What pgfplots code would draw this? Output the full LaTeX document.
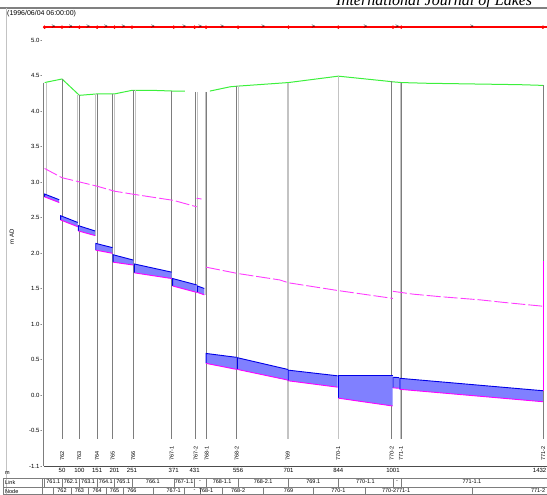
\documentclass[border=0pt]{standalone}
\usepackage{pgfplots}
\pgfplotsset{compat=1.18}
\usepackage{fontspec}
\setmainfont{Liberation Sans}
\newfontfamily\serifit{Liberation Serif}
\definecolor{gnd}{RGB}{60,240,60}
\definecolor{wfill}{RGB}{128,128,255}
\definecolor{wtop}{RGB}{0,0,230}
\definecolor{inv}{RGB}{255,0,255}
\definecolor{crown}{RGB}{255,60,255}
\definecolor{dk}{RGB}{125,125,125}
\definecolor{lt}{RGB}{195,195,195}
% pipe: x1 x2 top1 top2 bottom1 bottom2
\newcommand\pipe[6]{%
 \addplot[fill=wfill, draw=none] coordinates {(#1,#5) (#2,#6) (#2,#4) (#1,#3)} -- cycle;
 \addplot[wtop, line width=0.9pt] coordinates {(#1,#5) (#1,#3) (#2,#4)};
 \addplot[inv, line width=0.9pt] coordinates {(#1,#5) (#2,#6)};
}
\newcommand\nline[4]{\addplot[#1, line width=0.8pt] coordinates {(#2,#3) (#2,#4)};}
\newcommand\nlab[2]{\node[rotate=90, anchor=west, inner sep=0pt, font=\fontsize{5.5}{6}\selectfont] at (axis cs:#1,-0.93) {#2};}
\newcommand\rowtxt[3]{\node[inner sep=0pt, font=\fontsize{5.5}{6}\selectfont] at (axis cs:#1,#2) {#3};}
\newcommand\rowsep[3]{\draw[dk, line width=0.4pt] (axis cs:#1,#2) -- (axis cs:#1,#3);}
\begin{document}
\begin{tikzpicture}[x=1pt,y=1pt]
\useasboundingbox (0,0) rectangle (547,495);
\node[anchor=base west, inner sep=0pt, font=\serifit\itshape\fontsize{16}{16}\selectfont] at (336,489.5) {International Journal of Lakes};
\draw[gray, line width=1.2pt] (0,487) -- (547,487);
\draw[lt] (6.5,0) -- (6.5,487);
\node[anchor=west, inner sep=0pt, font=\fontsize{7}{7}\selectfont] at (7,481) {(1996/06/04 06:00:00)};
\node[anchor=west, inner sep=0pt, font=\fontsize{5.5}{6}\selectfont] at (5,22) {m};
\node[anchor=west, inner sep=0pt, font=\fontsize{5.5}{6}\selectfont] at (5,12.5) {Link};
\node[anchor=west, inner sep=0pt, font=\fontsize{5.5}{6}\selectfont] at (5,3.5) {Node};
\node[anchor=north east, inner sep=0.5pt, font=\fontsize{6}{7}\selectfont] at (547,27.5) {1432};
\draw[dk, line width=0.4pt] (3,17) -- (547,17);
\draw[dk, line width=0.4pt] (3,8) -- (547,8);
\draw[dk, line width=0.4pt] (3,0.3) -- (547,0.3);
\draw[dk, line width=0.4pt] (3,0) -- (3,17);
\draw[dk, line width=0.4pt] (42,0) -- (42,17);
\begin{axis}[
  at={(43.56pt,29pt)}, anchor=south west,
  width=503.9pt, height=458pt, scale only axis,
  xmin=-3, xmax=1445, ymin=-1.0, ymax=5.45,
  clip=false,
  separate axis lines,
  axis x line*=bottom, axis y line*=left,
  x axis line style={-, draw=black!70},
  y axis line style={draw=none},
  major tick length=0pt,
  /pgf/number format/assume math mode=true,
  tick label style={font=\fontsize{6}{7}\selectfont},
  ytick={-1,-0.5,0,0.5,1,1.5,2,2.5,3,3.5,4,4.5,5},
  yticklabels={-1.1\,-,-0.5\,-,0.0\,-,0.5\,-,1.0\,-,1.5\,-,2.0\,-,2.5\,-,3.0\,-,3.5\,-,4.0\,-,4.5\,-,5.0\,-},
  yticklabel style={inner sep=1pt},
  xtick={50,100,151,201,251,371,431,556,701,844,1001},
  xticklabels={50,100,151,201,251,371,431,556,701,844,1001},
  xticklabel style={inner sep=0.5pt, anchor=north, yshift=-1.5pt},
  ylabel={m AD},
  ylabel style={at={(axis description cs:-0.063,0.5)}, anchor=center, font=\fontsize{6}{7}\selectfont},
]
% ground
\addplot[gnd, line width=1pt] coordinates {(0,4.40) (50,4.45) (100,4.22) (151,4.24) (201,4.24) (251,4.29) (311,4.29) (371,4.28) (403,4.28)};
\addplot[gnd, line width=1pt] coordinates {(475,4.28) (533,4.34) (556,4.35) (701,4.40) (844,4.49) (983,4.42) (1001,4.41) (1025,4.40) (1098,4.39) (1231,4.38) (1366,4.37) (1432,4.36)};
% node lines
\nline{dk}{-3.7}{4.40}{-1.0}
\nline{lt}{4}{4.40}{2.79}
\nline{dk}{51}{4.45}{-0.62}
\nline{lt}{95}{4.22}{2.37}
\nline{dk}{99.7}{4.22}{-0.62}
\nline{lt}{145.7}{4.24}{2.245}
\nline{dk}{150.6}{4.24}{-0.62}
\nline{dk}{195.7}{4.24}{-0.62}
\nline{lt}{199.4}{4.24}{1.87}
\nline{dk}{254.9}{4.29}{-0.62}
\nline{lt}{259.8}{4.29}{1.72}
\nline{dk}{365.2}{4.28}{-0.62}
\nline{dk}{434.2}{4.27}{-0.62}
\nline{lt}{440}{4.27}{1.445}
\nline{lt}{461}{4.27}{1.41}
\nline{dk}{465.8}{4.27}{-0.62}
\nline{dk}{552}{4.35}{-0.62}
\nline{lt}{556.6}{4.35}{0.36}
\addplot[lt, line width=1.8pt] coordinates {(699,4.40) (699,-0.62)};
\nline{lt}{844}{4.49}{-0.62}
\nline{dk}{997.4}{4.42}{-0.62}
\nline{lt}{1021}{4.40}{-0.62}
\nline{dk}{1026}{4.40}{-0.62}
\nline{dk}{1433}{4.36}{-0.62}
% crown / upper line
\addplot[crown, line width=0.9pt, dash pattern=on 14pt off 3pt] coordinates {(0,3.19) (50,3.06) (151,2.94) (201,2.87) (251,2.83) (371,2.74) (437,2.65)};
\addplot[crown, line width=0.9pt] coordinates {(437,2.77) (451,2.76)};
\addplot[crown, line width=0.9pt, dash pattern=on 14pt off 3pt] coordinates {(464,1.80) (556,1.71) (676,1.62) (701,1.58) (844,1.47) (1001,1.36)};
\addplot[crown, line width=0.9pt, dash pattern=on 14pt off 3pt] coordinates {(1001,1.46) (1059,1.42) (1136,1.385) (1251,1.34) (1317,1.305) (1432,1.25)};
% pipes with water
\pipe{0}{42}{2.83}{2.75}{2.79}{2.71}
\pipe{46}{95}{2.525}{2.43}{2.465}{2.37}
\pipe{97}{145}{2.385}{2.31}{2.31}{2.245}
\pipe{147}{195}{2.135}{2.075}{2.04}{1.995}
\pipe{197}{255}{1.975}{1.90}{1.87}{1.83}
\pipe{258}{365}{1.845}{1.73}{1.72}{1.64}
\pipe{368}{437}{1.64}{1.55}{1.535}{1.445}
\pipe{439}{459}{1.535}{1.50}{1.445}{1.41}
\pipe{464}{552}{0.585}{0.53}{0.445}{0.36}
\pipe{554}{699}{0.525}{0.36}{0.36}{0.21}
\pipe{700}{842}{0.35}{0.27}{0.20}{0.11}
\pipe{844}{1000}{0.27}{0.27}{-0.045}{-0.155}
\pipe{1001}{1019}{0.25}{0.245}{0.10}{0.095}
\pipe{1021}{1432}{0.235}{0.06}{0.08}{-0.095}
\addplot[inv, line width=1.2pt] coordinates {(1433,0.06) (1433,1.88)};
% top red node/link strip
\addplot[red, line width=1.6pt] coordinates {(0,5.18) (1445,5.18)};
\addplot[red, only marks, mark=*, mark size=1.5pt] coordinates {(0,5.18) (50,5.18) (100,5.18) (151,5.18) (201,5.18) (251,5.18) (371,5.18) (431,5.18) (464,5.18) (556,5.18) (701,5.18) (844,5.18) (1001,5.18) (1025,5.18) (1432,5.18)};
\addplot[red!70, only marks, mark=text, text mark={\fontsize{6}{6}\selectfont >}] coordinates {(25,5.18) (75,5.18) (125,5.18) (176,5.18) (226,5.18) (311,5.18) (401,5.18) (447,5.18) (510,5.18) (628,5.18) (772,5.18) (922,5.18) (1013,5.18) (1228,5.18)};
% rotated node labels
\nlab{51}{762}
\nlab{99.7}{763}
\nlab{150.6}{764}
\nlab{195.7}{765}
\nlab{254.9}{766}
\nlab{365.2}{767-1}
\nlab{434.2}{767-2}
\nlab{465.8}{768-1}
\nlab{552}{768-2}
\nlab{699}{769}
\nlab{844}{770-1}
\nlab{997.4}{770-2}
\nlab{1024}{771-1}
\nlab{1433}{771-2}
% link row separators (at nodes) and labels
\rowsep{0}{-1.169}{-1.296}
\rowsep{50}{-1.169}{-1.296}
\rowsep{100}{-1.169}{-1.296}
\rowsep{151}{-1.169}{-1.296}
\rowsep{201}{-1.169}{-1.296}
\rowsep{251}{-1.169}{-1.296}
\rowsep{371}{-1.169}{-1.296}
\rowsep{431}{-1.169}{-1.296}
\rowsep{464}{-1.169}{-1.296}
\rowsep{556}{-1.169}{-1.296}
\rowsep{701}{-1.169}{-1.296}
\rowsep{844}{-1.169}{-1.296}
\rowsep{1001}{-1.169}{-1.296}
\rowsep{1025}{-1.169}{-1.296}
\rowtxt{25}{-1.225}{761.1}
\rowtxt{75}{-1.225}{762.1}
\rowtxt{125}{-1.225}{763.1}
\rowtxt{176}{-1.225}{764.1}
\rowtxt{226}{-1.225}{765.1}
\rowtxt{311}{-1.225}{766.1}
\rowtxt{401}{-1.225}{767-1.1}
\rowtxt{447}{-1.225}{-}
\rowtxt{510}{-1.225}{768-1.1}
\rowtxt{628}{-1.225}{768-2.1}
\rowtxt{772}{-1.225}{769.1}
\rowtxt{922}{-1.225}{770-1.1}
\rowtxt{1013}{-1.225}{-}
\rowtxt{1228}{-1.225}{771-1.1}
% node row separators (at link midpoints) and labels
\rowsep{25}{-1.296}{-1.405}
\rowsep{75}{-1.296}{-1.405}
\rowsep{125}{-1.296}{-1.405}
\rowsep{176}{-1.296}{-1.405}
\rowsep{226}{-1.296}{-1.405}
\rowsep{311}{-1.296}{-1.405}
\rowsep{401}{-1.296}{-1.405}
\rowsep{447}{-1.296}{-1.405}
\rowsep{510}{-1.296}{-1.405}
\rowsep{628}{-1.296}{-1.405}
\rowsep{772}{-1.296}{-1.405}
\rowsep{922}{-1.296}{-1.405}
\rowsep{1228}{-1.296}{-1.405}
\rowtxt{50}{-1.352}{762}
\rowtxt{100}{-1.352}{763}
\rowtxt{151}{-1.352}{764}
\rowtxt{201}{-1.352}{765}
\rowtxt{251}{-1.352}{766}
\rowtxt{371}{-1.352}{767-1}
\rowtxt{431}{-1.352}{-}
\rowtxt{464}{-1.352}{768-1}
\rowtxt{556}{-1.352}{768-2}
\rowtxt{701}{-1.352}{769}
\rowtxt{844}{-1.352}{770-1}
\rowtxt{990}{-1.352}{770-2}
\rowtxt{1030}{-1.352}{771-1}
\rowtxt{1418}{-1.352}{771-2}
\end{axis}
\end{tikzpicture}
\end{document}
